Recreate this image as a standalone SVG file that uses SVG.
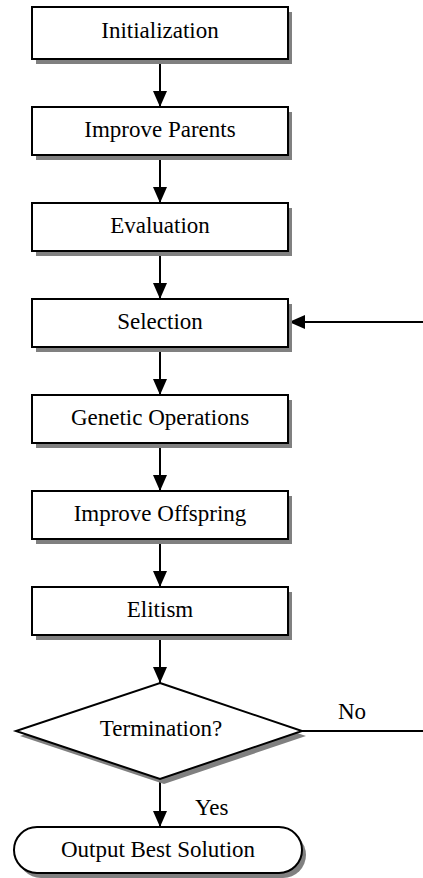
<svg xmlns="http://www.w3.org/2000/svg" width="423" height="878" viewBox="0 0 423 878" font-family="Liberation Serif, serif" font-size="23">
<style>
.box{fill:#fff;stroke:#000;stroke-width:2}
.sh{fill:#808080;stroke:none}
.ln{fill:none;stroke:#000;stroke-width:2}
.t{fill:#000;stroke:none}
.c{text-anchor:middle}
</style>
<defs>
<marker id="ah" viewBox="0 0 16 14" refX="16" refY="7" markerWidth="16" markerHeight="14" markerUnits="userSpaceOnUse" orient="auto">
<path d="M0,0 L16,7 L0,14 Z" fill="#000"/>
</marker>
</defs>
<rect x="0" y="0" width="423" height="878" fill="#fff"/>
<g id="connectors">
<line class="ln" x1="160" y1="59" x2="160" y2="107" marker-end="url(#ah)"/>
<line class="ln" x1="160" y1="155" x2="160" y2="203" marker-end="url(#ah)"/>
<line class="ln" x1="160" y1="251" x2="160" y2="299" marker-end="url(#ah)"/>
<line class="ln" x1="160" y1="347" x2="160" y2="395" marker-end="url(#ah)"/>
<line class="ln" x1="160" y1="443" x2="160" y2="491" marker-end="url(#ah)"/>
<line class="ln" x1="160" y1="539" x2="160" y2="587" marker-end="url(#ah)"/>
<line class="ln" x1="160" y1="635" x2="160" y2="683" marker-end="url(#ah)"/>
<line class="ln" x1="160" y1="779" x2="160" y2="827" marker-end="url(#ah)"/>
<path class="ln" d="M302,731 H426 V322 H289" marker-end="url(#ah)"/>
<text class="t" x="338" y="719" font-family="Liberation Serif, serif">No</text>
<text class="t" x="195" y="815" font-family="Liberation Serif, serif">Yes</text>
</g>
<g id="init">
<rect class="sh" x="36" y="12" width="256" height="52"/>
<rect class="box" x="32" y="7" width="256" height="52"/>
<text class="t c" x="160" y="38" font-family="Liberation Serif, serif">Initialization</text>
</g>
<g id="improve-parents">
<rect class="sh" x="36" y="112" width="256" height="48"/>
<rect class="box" x="32" y="107" width="256" height="48"/>
<text class="t c" x="160" y="137" font-family="Liberation Serif, serif">Improve Parents</text>
</g>
<g id="evaluation">
<rect class="sh" x="36" y="208" width="256" height="48"/>
<rect class="box" x="32" y="203" width="256" height="48"/>
<text class="t c" x="160" y="233" font-family="Liberation Serif, serif">Evaluation</text>
</g>
<g id="selection">
<rect class="sh" x="36" y="304" width="256" height="48"/>
<rect class="box" x="32" y="299" width="256" height="48"/>
<text class="t c" x="160" y="329" font-family="Liberation Serif, serif">Selection</text>
</g>
<g id="genetic">
<rect class="sh" x="36" y="400" width="256" height="48"/>
<rect class="box" x="32" y="395" width="256" height="48"/>
<text class="t c" x="160" y="425" font-family="Liberation Serif, serif">Genetic Operations</text>
</g>
<g id="improve-offspring">
<rect class="sh" x="36" y="496" width="256" height="48"/>
<rect class="box" x="32" y="491" width="256" height="48"/>
<text class="t c" x="160" y="521" font-family="Liberation Serif, serif">Improve Offspring</text>
</g>
<g id="elitism">
<rect class="sh" x="36" y="592" width="256" height="48"/>
<rect class="box" x="32" y="587" width="256" height="48"/>
<text class="t c" x="160" y="617" font-family="Liberation Serif, serif">Elitism</text>
</g>
<g id="termination">
<polygon class="sh" points="164,688 306,736 164,784 20,736"/>
<polygon class="box" points="160,683 302,731 160,779 16,731"/>
<text class="t c" x="161" y="736" font-family="Liberation Serif, serif">Termination?</text>
</g>
<g id="output">
<rect class="sh" x="18" y="832" width="288" height="46" rx="23" ry="23"/>
<rect class="box" x="14" y="827" width="288" height="46" rx="23" ry="23"/>
<text class="t c" x="158" y="857" font-family="Liberation Serif, serif">Output Best Solution</text>
</g>
</svg>
